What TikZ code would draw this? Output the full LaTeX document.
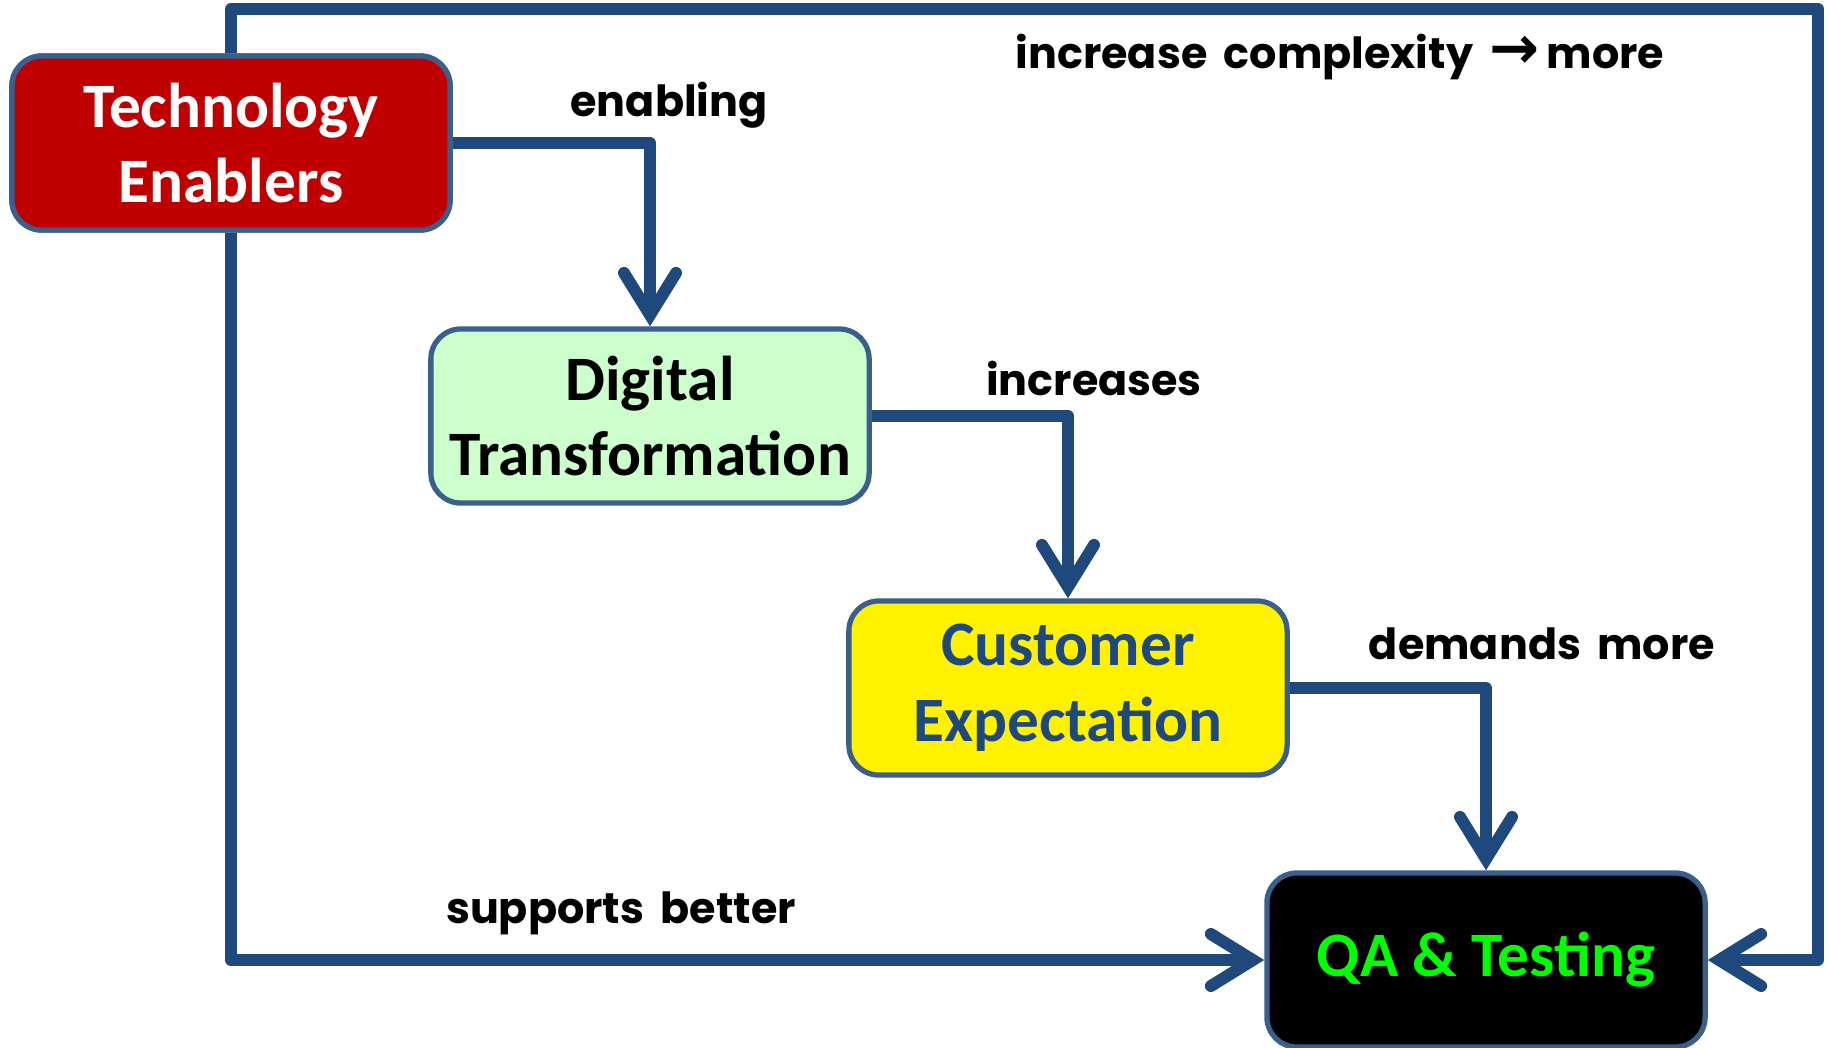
\documentclass[tikz,border=0pt]{standalone}
\usepackage{fontspec}
\setmainfont{Carlito}
\newfontfamily\notefont[WordSpace=1.8]{Poppins}
\newfontfamily\symfont{DejaVu Sans}
\usetikzlibrary{arrows.meta}

\definecolor{flowblue}{HTML}{1F497D}
\definecolor{edgeblue}{HTML}{3A5F8B}
\definecolor{techred}{HTML}{C00000}
\definecolor{mintgreen}{HTML}{CCFFCC}
\definecolor{qagreen}{HTML}{00FF00}

\tikzset{
  box/.style={draw=edgeblue, line width=1.5pt, rounded corners=0.3cm,
    minimum width=4.38cm, minimum height=1.74cm, align=center,
    font=\fontsize{18}{21.6}\selectfont\bfseries},
  flow/.style={draw=flowblue, line width=3.4pt, line join=round,
    -{Straight Barb[length=0.42cm, width=0.52cm, line cap=round]}},
  note/.style={font=\fontsize{12.2}{15}\selectfont\notefont\bfseries},
}

\begin{document}
\begin{tikzpicture}[x=0.01cm, y=-0.01cm]
  \useasboundingbox (0,0) rectangle (1830,1047);

  % loops first, so the boxes sit on top of them
  \coordinate (topright) at (1818,9);
  \node[box, fill=techred, text=white] (tech) at (231,143) {Technology\\Enablers};
  \node[box, fill=black, text=qagreen] (qa) at (1486,960) {QA \& Testing};

  \draw[flow] (tech.south) |- (qa.west);
  \draw[flow] (tech.north) |- (topright) |- (qa.east);

  % boxes
  \node[box, fill=techred, text=white] at (tech) {Technology\\Enablers};
  \node[box, fill=mintgreen, text=black] (digital) at (650,416) {Digital\\Transformation};
  \node[box, fill=yellow, text=flowblue] (customer) at (1068,688) {Customer\\Expectation};

  \draw[flow] (tech.east) -| (digital.north);
  \draw[flow] (digital.east) -| (customer.north);
  \draw[flow] (customer.east) -| (qa.north);

  % labels
  \node[note] (enabling) at (669,105) {enabling};
  \node[note] (increases) at (1094,378) {increases};
  \node[note] (demands) at (1542,644) {demands more};
  \node[note] (supports) at (621,913) {supports better};
  \node[note] (complexity) at (1340,57) {increase complexity {\symfont\fontsize{17}{15}\selectfont →}\,more};
\end{tikzpicture}
\end{document}
